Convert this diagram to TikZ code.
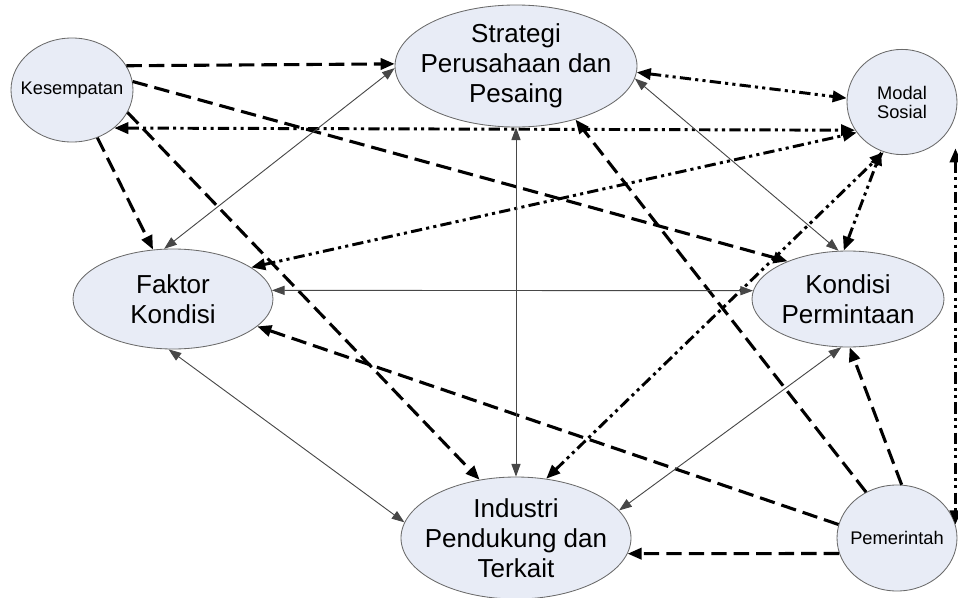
\documentclass[tikz,border=0pt]{standalone}
\usepackage{fontspec}
\setmainfont{Liberation Sans}
\usetikzlibrary{arrows.meta,shapes.geometric}
\definecolor{bubfill}{HTML}{E8ECF6}
\definecolor{bubline}{HTML}{6A6A6A}
\definecolor{thingray}{HTML}{474747}

\begin{document}
\begin{tikzpicture}[
  bub/.style={ellipse,draw=bubline,fill=bubfill,line width=0.6pt,inner sep=0pt},
  bigtxt/.style={align=center,font=\fontsize{18.5}{21.5}\selectfont},
  smalltxt/.style={align=center,font=\fontsize{13}{13.5}\selectfont},
  dashln/.style={line width=2.2pt,dash pattern=on 11pt off 5pt,>={Triangle[length=10pt,width=8pt]}},
  dotln/.style={line width=2.1pt,dash pattern=on 8pt off 3pt on 2.2pt off 3pt on 2.2pt off 3pt,>={Triangle[length=10pt,width=8pt]}},
  thinln/.style={thingray,line width=0.65pt,<->,>={Triangle[length=9pt,width=6.5pt]}}
]
  \useasboundingbox (0,0) rectangle (23.95,-14.95);
  % the seven factors
  \node[bub,minimum width=3.05cm,minimum height=2.6cm,label={[smalltxt]center:Kesempatan}] (kes) at (1.8,-2.25) {};
  \node[bub,minimum width=6.05cm,minimum height=3.05cm,label={[bigtxt]center:Strategi\\Perusahaan dan\\Pesaing}] (str) at (12.9,-1.65) {};
  \node[bub,minimum width=2.75cm,minimum height=2.63cm,label={[smalltxt]center:Modal\\Sosial}] (mod) at (22.55,-2.55) {};
  \node[bub,minimum width=5cm,minimum height=2.5cm,label={[bigtxt]center:Faktor\\Kondisi}] (fak) at (4.325,-7.475) {};
  \node[bub,minimum width=4.8cm,minimum height=2.4cm,label={[bigtxt]center:Kondisi\\Permintaan}] (kon) at (21.2,-7.475) {};
  \node[bub,minimum width=5.75cm,minimum height=3.05cm,label={[bigtxt]center:Industri\\Pendukung dan\\Terkait}] (ind) at (12.9,-13.45) {};
  \node[bub,minimum width=3cm,minimum height=2.65cm,label={[smalltxt]center:Pemerintah}] (pem) at (22.425,-13.45) {};
  % Kesempatan (dashed)
  \draw[dashln,->] (kes.24) -- (str.179);
  \draw[dashln,->] (kes.8) -- (kon.148);
  \draw[dashln,->] (kes.-22) -- (ind.122);
  \draw[dashln,->] (kes.-62) -- (fak.112);
  % Pemerintah (dashed)
  \draw[dashln,->] (pem.124) -- (str.-42);
  \draw[dashln,->] (pem.167) -- (fak.-18);
  \draw[dashln,->] (pem.85) -- (kon.-88);
  \draw[dashln,->] (pem.195) -- (ind.-8);
  % Modal Sosial (dash dot dot)
  \draw[dotln,<->] (kes.-42) -- (mod.211);
  \draw[dotln,<->] (fak.22) -- (mod.214);
  \draw[dotln,<->] (str.-3) -- (mod.176);
  \draw[dotln,<->] (kon.95) -- (mod.247);
  \draw[dotln,<->] (ind.63) -- (mod.250);
  \draw[dotln,<->] (pem.13 |- mod.-60) -- (pem.13);
  % diamond links (thin)
  \draw[thinln] (str.south) -- (ind.north);
  \draw[thinln] (fak.5) -- (kon.175);
  \draw[thinln] (fak.100) -- (str.181);
  \draw[thinln] (str.-6) -- (kon.101);
  \draw[thinln] (fak.-95) -- (ind.172);
  \draw[thinln] (kon.262) -- (ind.15);
\end{tikzpicture}
\end{document}
